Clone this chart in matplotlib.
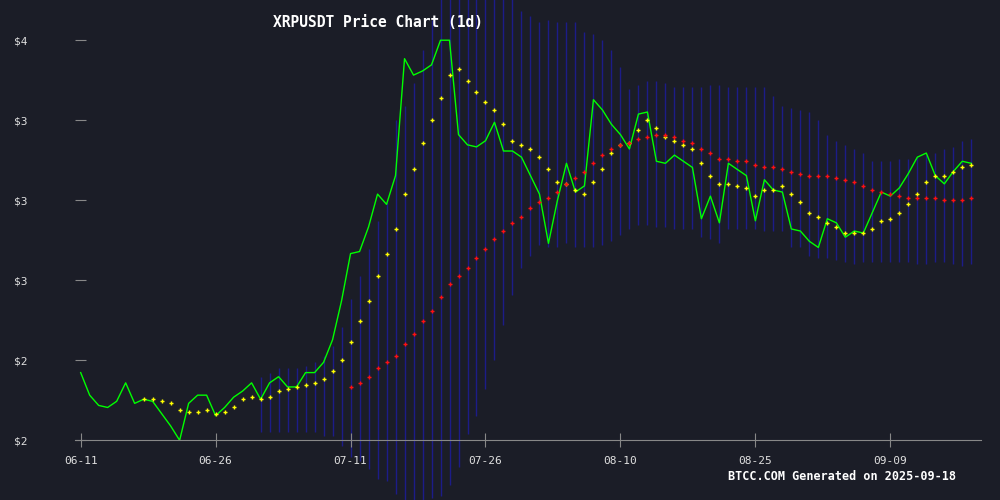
import matplotlib

matplotlib.use("Agg")
import matplotlib.pyplot as plt
import numpy as np

# daily closes 2025-06-11 .. 2025-09-18
close = [2.23, 2.12, 2.07, 2.06, 2.09, 2.18, 2.08, 2.10, 2.09, 2.03,
         1.97, 1.90, 2.08, 2.12, 2.12, 2.02, 2.06, 2.11, 2.14, 2.18,
         2.10, 2.18, 2.21, 2.16, 2.16, 2.23, 2.23, 2.28, 2.39, 2.58,
         2.81, 2.82, 2.94, 3.10, 3.05, 3.19, 3.76, 3.68, 3.70, 3.73,
         3.85, 3.85, 3.39, 3.34, 3.33, 3.36, 3.45, 3.31, 3.31, 3.28,
         3.19, 3.10, 2.86, 3.07, 3.25, 3.11, 3.14, 3.56, 3.51, 3.44,
         3.39, 3.32, 3.49, 3.50, 3.26, 3.25, 3.29, 3.26, 3.23, 2.98,
         3.09, 2.96, 3.25, 3.22, 3.19, 2.97, 3.17, 3.12, 3.11, 2.93,
         2.92, 2.87, 2.84, 2.98, 2.96, 2.89, 2.92, 2.91, 3.01, 3.11,
         3.09, 3.13, 3.20, 3.28, 3.30, 3.19, 3.15, 3.21, 3.26, 3.25]

# short moving average, from day 7
ma_short = [2.10, 2.10, 2.09, 2.08, 2.05, 2.04, 2.04, 2.05, 2.03, 2.04,
            2.06, 2.10, 2.11, 2.10, 2.11, 2.14, 2.15, 2.16, 2.17, 2.18,
            2.20, 2.24, 2.29, 2.38, 2.48, 2.58, 2.70, 2.81, 2.93, 3.10,
            3.22, 3.35, 3.46, 3.57, 3.68, 3.71, 3.65, 3.60, 3.55, 3.51,
            3.44, 3.36, 3.34, 3.32, 3.28, 3.22, 3.16, 3.15, 3.12, 3.10,
            3.16, 3.22, 3.30, 3.34, 3.35, 3.41, 3.46, 3.42, 3.38, 3.36,
            3.34, 3.32, 3.25, 3.19, 3.15, 3.15, 3.14, 3.13, 3.09, 3.12,
            3.12, 3.14, 3.10, 3.06, 3.01, 2.99, 2.96, 2.94, 2.91, 2.91,
            2.91, 2.93, 2.97, 2.98, 3.01, 3.05, 3.10, 3.16, 3.19, 3.19,
            3.21, 3.23, 3.24]

# long moving average, from day 30
ma_long = [2.16, 2.18, 2.21, 2.25, 2.28, 2.31, 2.37, 2.42, 2.48, 2.53,
           2.60, 2.66, 2.70, 2.74, 2.79, 2.83, 2.88, 2.92, 2.96, 2.99,
           3.03, 3.06, 3.08, 3.11, 3.15, 3.18, 3.21, 3.25, 3.29, 3.32,
           3.34, 3.35, 3.37, 3.38, 3.39, 3.39, 3.38, 3.36, 3.35, 3.32,
           3.30, 3.27, 3.27, 3.26, 3.26, 3.24, 3.23, 3.23, 3.22, 3.21,
           3.20, 3.19, 3.19, 3.19, 3.18, 3.17, 3.16, 3.14, 3.12, 3.11,
           3.10, 3.09, 3.08, 3.08, 3.08, 3.08, 3.07, 3.07, 3.07, 3.08]

# band upper / lower, from day 20
band_upper = [2.21, 2.23, 2.25, 2.25, 2.25, 2.26, 2.28, 2.31, 2.36, 2.45,
              2.59, 2.70, 2.83, 2.97, 3.06, 3.46, 3.53, 3.64, 3.80, 3.95,
              4.10, 4.18, 4.22, 4.22, 4.20, 4.16, 4.12, 4.10, 4.08, 3.99,
              3.97, 3.94, 3.95, 3.94, 3.94, 3.94, 3.89, 3.88, 3.85, 3.80,
              3.72, 3.61, 3.63, 3.65, 3.65, 3.64, 3.62, 3.62, 3.62, 3.62,
              3.63, 3.63, 3.62, 3.62, 3.62, 3.62, 3.62, 3.58, 3.53, 3.52,
              3.51, 3.50, 3.46, 3.39, 3.36, 3.34, 3.32, 3.30, 3.26, 3.26,
              3.26, 3.27, 3.27, 3.28, 3.29, 3.30, 3.32, 3.33, 3.36, 3.37]
band_lower = [1.94, 1.94, 1.94, 1.94, 1.94, 1.94, 1.94, 1.92, 1.92, 1.87,
              1.82, 1.80, 1.76, 1.71, 1.70, 1.64, 1.58, 1.56, 1.55, 1.62,
              1.63, 1.68, 1.77, 1.93, 2.02, 2.15, 2.29, 2.46, 2.61, 2.74,
              2.80, 2.85, 2.84, 2.84, 2.86, 2.84, 2.84, 2.84, 2.85, 2.87,
              2.90, 2.93, 2.95, 2.95, 2.94, 2.94, 2.93, 2.93, 2.93, 2.89,
              2.88, 2.86, 2.93, 2.93, 2.93, 2.93, 2.92, 2.92, 2.92, 2.84,
              2.84, 2.80, 2.79, 2.79, 2.78, 2.77, 2.76, 2.77, 2.77, 2.77,
              2.77, 2.77, 2.77, 2.76, 2.76, 2.77, 2.77, 2.76, 2.75, 2.76]

x_ticks = ["06-11", "06-26", "07-11", "07-26", "08-10", "08-25", "09-09"]
y_ticks = [1.9, 2.29, 2.68, 3.07, 3.46, 3.85]

BG = "#1b1d27"
FONT = "DejaVu Sans Mono"

days = np.arange(len(close))
fig = plt.figure(figsize=(10, 5), dpi=100, facecolor=BG)
ax = fig.add_axes([0.075, 0.1194, 0.906, 0.8806], facecolor=BG)

bx = days[20:]
ax.vlines(bx, band_lower, band_upper, color="#1c1c88", lw=1, clip_on=False, zorder=1)
ax.plot(days, close, color="#00ff00", lw=1, zorder=3)
ax.plot(days[7:], ma_short, "+", color="#ffff00", ms=3.2, mew=1, zorder=4)
ax.plot(days[30:], ma_long, "+", color="#ff1010", ms=3.2, mew=1, zorder=4)

ax.set_xlim(-0.63, 100.08)
ax.set_ylim(1.9, 4.046)
ax.set_xticks(np.arange(0, 91, 15))
ax.set_xticklabels(x_ticks)
ax.set_yticks(y_ticks)
ax.set_yticklabels([f"${v:.0f}" for v in y_ticks])

for s in ["top", "right", "left"]:
    ax.spines[s].set_visible(False)
ax.spines["bottom"].set_color("#888888")
ax.tick_params(axis="x", colors="#888888", direction="inout", length=10, labelcolor="#e0e0e0",
               labelsize=8, pad=6)
ax.tick_params(axis="y", colors="#888888", direction="in", length=8, labelcolor="#e0e0e0",
               labelsize=8, pad=34)
for lab in ax.get_xticklabels() + ax.get_yticklabels():
    lab.set_fontfamily(FONT)

fig.text(0.378, 0.955, "XRPUSDT Price Chart (1d)", color="white", fontsize=10.5,
         fontfamily=FONT, fontweight="bold", ha="center", va="center")
fig.text(0.842, 0.046, "BTCC.COM Generated on 2025-09-18", color="white", fontsize=8.5,
         fontfamily=FONT, fontweight="bold", ha="center", va="center")

fig.savefig("out.png", dpi=100, facecolor=BG)
